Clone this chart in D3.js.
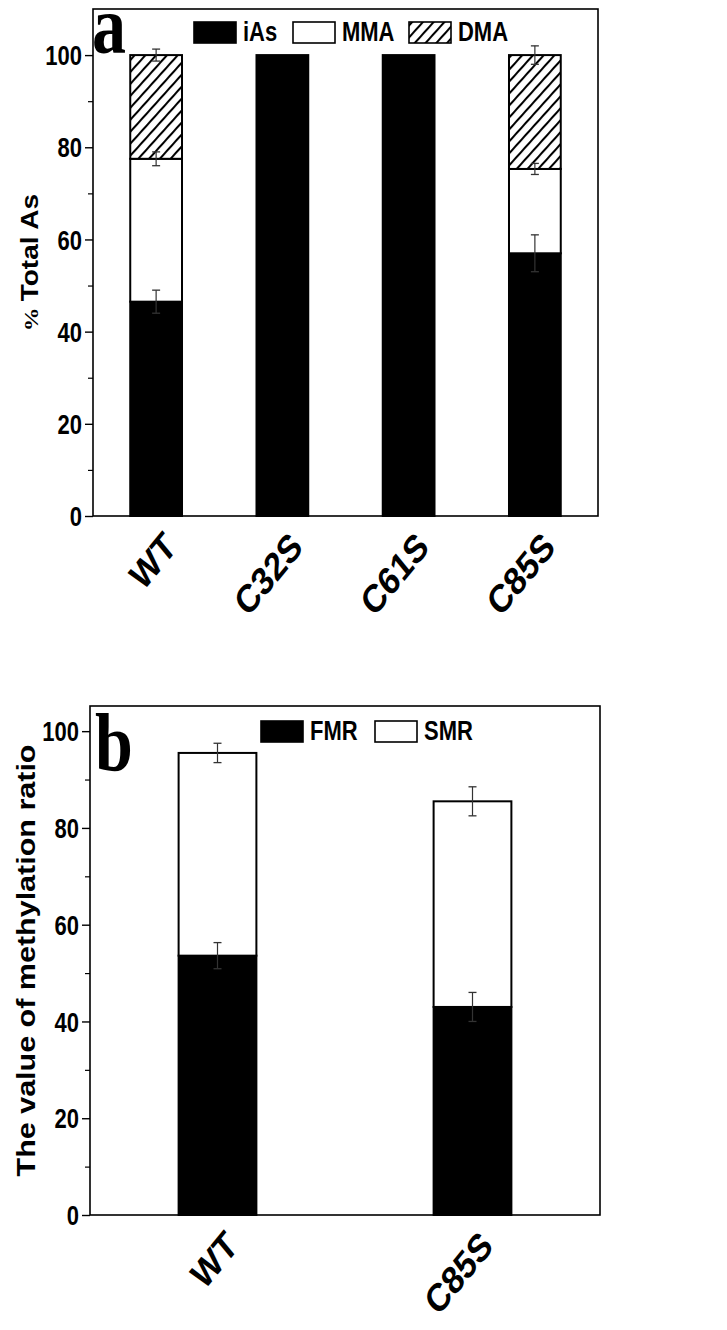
<!DOCTYPE html>
<html>
<head>
<meta charset="utf-8">
<script src="https://cdn.jsdelivr.net/npm/d3@7"></script>
<style>
  body { margin: 0; background: #fff; }
  svg { display: block; }
  text { font-family: "Liberation Sans", Arial, sans-serif; font-weight: bold; fill: #000; }
</style>
</head>
<body>
<svg id="chart" width="727" height="1330"></svg>
<script>
// ---- Panel a data ----
const catsA = ["WT", "C32S", "C61S", "C85S"];
const seriesA = ["iAs", "MMA", "DMA"];
const iAs = [46.5, 100, 100, 57.0];
const iAsErr = [2.5, 0, 0, 4.0];
const MMA = [31.0, 0, 0, 18.3];
const MMAErr = [1.5, 0, 0, 1.2];
const DMA = [22.5, 0, 0, 24.7];
const DMAErr = [1.3, 0, 0, 2.0];
const ticksA = [0, 20, 40, 60, 80, 100];
const yTitleA = "Total As";

// ---- Panel b data ----
const catsB = ["WT", "C85S"];
const seriesB = ["FMR", "SMR"];
const FMR = [53.6, 43.0];
const FMRErr = [2.7, 3.0];
const SMR = [41.9, 42.5];
const SMRErr = [2.0, 3.0];
const ticksB = [0, 20, 40, 60, 80, 100];
const yTitleB = "The value of methylation ratio";

const S = 1.22; // vertical stretch of the original figure's lettering

const svg = d3.select("#chart");
const defs = svg.append("defs");
const pat = defs.append("pattern")
  .attr("id", "hatch").attr("patternUnits", "userSpaceOnUse")
  .attr("width", 8).attr("height", 8)
  .attr("patternTransform", "rotate(42)");
pat.append("rect").attr("width", 8).attr("height", 8).attr("fill", "#fff");
pat.append("line").attr("x1", 1).attr("y1", -1).attr("x2", 1).attr("y2", 9)
  .attr("stroke", "#000").attr("stroke-width", 2.1);

const fills = { iAs: "#000", MMA: "#fff", DMA: "url(#hatch)", FMR: "#000", SMR: "#fff" };

function stretchedText(parent, x, y, rot, str, size, anchor, family) {
  const t = parent.append("text")
    .attr("transform", `translate(${x},${y}) scale(1,${S})` + (rot ? ` rotate(${rot})` : ""))
    .attr("text-anchor", anchor || "start")
    .style("font-size", size + "px");
  if (family) t.style("font-family", family);
  t.text(str);
  return t;
}

function panel(opts) {
  const { L, R, T, B, yMax, cats, series, values, errs, ticks, yTitle, yTitlePrefix, letter, barFrac,
          legendXs, legendY, letterX, letterY, titleX, titleSize, xLabelFs, labDx, labDy } = opts;
  const g = svg.append("g");
  const x = d3.scaleBand().domain(cats).range([L, R]).paddingInner(1 - barFrac).paddingOuter((1 - barFrac) / 2);
  const y = d3.scaleLinear().domain([0, yMax]).range([B, T]);

  const rows = cats.map((c, i) => {
    const o = { cat: c };
    series.forEach((s, k) => { o[s] = values[k][i]; });
    return o;
  });
  const stack = d3.stack().keys(series)(rows);

  stack.forEach((layer, k) => {
    const s = series[k];
    layer.forEach((d, i) => {
      if (d[1] - d[0] <= 0) return;
      g.append("rect")
        .attr("x", x(cats[i])).attr("width", x.bandwidth())
        .attr("y", y(d[1])).attr("height", y(d[0]) - y(d[1]))
        .attr("fill", fills[s])
        .attr("stroke", "#000").attr("stroke-width", 2);
    });
  });
  // error bars
  stack.forEach((layer, k) => {
    layer.forEach((d, i) => {
      const e = errs[k][i];
      if (!e || d[1] - d[0] <= 0) return;
      const cx = x(cats[i]) + x.bandwidth() / 2;
      const col = "#333";
      g.append("line").attr("x1", cx).attr("x2", cx)
        .attr("y1", y(d[1] - e)).attr("y2", y(d[1] + e))
        .attr("stroke", col).attr("stroke-width", 1.2);
      [d[1] - e, d[1] + e].forEach(v => {
        g.append("line").attr("x1", cx - 4).attr("x2", cx + 4)
          .attr("y1", y(v)).attr("y2", y(v))
          .attr("stroke", col).attr("stroke-width", 1.3);
      });
    });
  });

  // frame
  g.append("rect").attr("x", L).attr("y", T).attr("width", R - L).attr("height", B - T)
    .attr("fill", "none").attr("stroke", "#000").attr("stroke-width", 1.6);

  // y axis
  const minor = d3.range(10, yMax, 20);
  const yAx = g.append("g").attr("transform", `translate(${L},0)`)
    .call(d3.axisLeft(y).tickValues(ticks).tickSize(8).tickPadding(3).tickFormat(d3.format("d")));
  yAx.select(".domain").remove();
  yAx.selectAll(".tick line").attr("stroke", "#000").attr("stroke-width", 1.4);
  yAx.selectAll(".tick text")
    .style("font-size", "22px").style("font-family", "'Liberation Sans', Arial, sans-serif")
    .style("font-weight", "bold").attr("dy", "0.36em")
    .attr("transform", `scale(1,${S})`);
  g.append("g").attr("transform", `translate(${L},0)`)
    .call(d3.axisLeft(y).tickValues(minor).tickSize(5).tickFormat(""))
    .call(a => a.select(".domain").remove())
    .selectAll(".tick line").attr("stroke", "#000").attr("stroke-width", 1.2);

  // x labels
  cats.forEach(c => {
    const cx = x(c) + x.bandwidth() / 2;
    stretchedText(g, cx + labDx, B + labDy, -45, c, xLabelFs, "end");
  });

  // y title
  const tt = g.append("text")
    .attr("transform", `translate(${titleX},${(T + B) / 2}) scale(1,${S}) rotate(-90)`)
    .attr("text-anchor", "middle")
    .style("font-size", titleSize + "px");
  if (yTitlePrefix) {
    tt.append("tspan").style("font-family", "'Liberation Serif', 'Times New Roman', serif")
      .style("font-size", (titleSize * 0.85) + "px").text(yTitlePrefix + " ");
  }
  tt.append("tspan").text(yTitle);

  // panel letter
  stretchedText(g, letterX, letterY, 0, letter, 68, "start", "'Liberation Serif', 'Times New Roman', serif");

  // legend
  series.forEach((s, k) => {
    const lx = legendXs[k];
    g.append("rect").attr("x", lx).attr("y", legendY).attr("width", 42).attr("height", 21)
      .attr("fill", fills[s]).attr("stroke", "#000").attr("stroke-width", 1.6);
    stretchedText(g, lx + 49, legendY + 18.5, 0, s, 22, "start");
  });
}

panel({
  L: 93, R: 598, T: 9, B: 516, yMax: 110,
  cats: catsA, series: seriesA,
  values: [iAs, MMA, DMA], errs: [iAsErr, MMAErr, DMAErr],
  ticks: ticksA, yTitle: yTitleA, yTitlePrefix: "%", titleSize: 23, letter: "a", barFrac: 0.41,
  legendXs: [194, 293, 409], legendY: 22, letterX: 92, letterY: 53, titleX: 38,
  xLabelFs: 32, labDx: 22, labDy: 33
});

panel({
  L: 90, R: 600, T: 706, B: 1215, yMax: 105.2,
  cats: catsB, series: seriesB,
  values: [FMR, SMR], errs: [FMRErr, SMRErr],
  ticks: ticksB, yTitle: yTitleB, titleSize: 25, letter: "b", barFrac: 0.305,
  legendXs: [261, 375], legendY: 721, letterX: 95, letterY: 770, titleX: 35,
  xLabelFs: 32, labDx: 22, labDy: 33
});
</script>
</body>
</html>
